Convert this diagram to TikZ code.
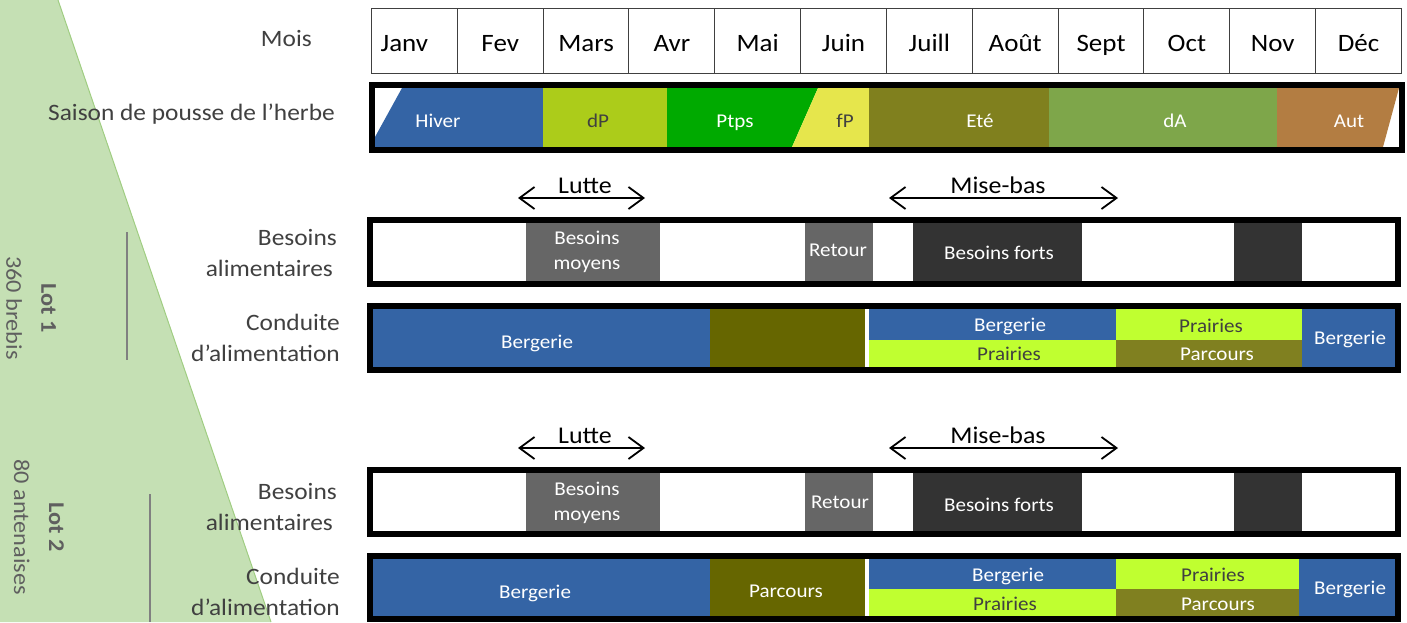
\documentclass[tikz,border=0pt]{standalone}
\usepackage{fontspec}
\setmainfont{Carlito}[FakeStretch=1.08]
\usetikzlibrary{arrows.meta}
\definecolor{bergerie}{RGB}{52,100,165}
\definecolor{dPc}{RGB}{172,204,26}
\definecolor{ptpsc}{RGB}{0,170,0}
\definecolor{fPc}{RGB}{230,230,76}
\definecolor{etec}{RGB}{128,128,30}
\definecolor{dAc}{RGB}{126,166,74}
\definecolor{autc}{RGB}{179,125,66}
\definecolor{darkolive}{RGB}{102,102,0}
\definecolor{limec}{RGB}{192,255,48}
\definecolor{parcc}{RGB}{128,128,32}
\definecolor{midgray}{RGB}{102,102,102}
\definecolor{darkgray}{RGB}{51,51,51}
\definecolor{leftgreen}{RGB}{197,224,180}
\definecolor{greenedge}{RGB}{160,205,130}
\definecolor{labelgray}{RGB}{64,64,64}
\definecolor{lotgray}{RGB}{95,95,95}
\begin{document}
\begin{tikzpicture}[x=1pt,y=-1pt,
  frame/.style={draw=black,line width=6pt},
  month/.style={draw=black!75,line width=1pt,minimum width=85.83pt,minimum height=65pt,anchor=north west,inner sep=0pt,text height=21pt,text depth=0pt,font=\fontsize{25}{28}\selectfont},
  rowlab/.style={text=labelgray,align=right,inner sep=0pt,font=\fontsize{23.5}{31}\selectfont},
  seas/.style={text=white,inner sep=0pt,text height=14pt,text depth=4pt,font=\fontsize{19.5}{24}\selectfont},
  boxt/.style={text=white,inner sep=0pt,align=center,font=\fontsize{19.5}{25}\selectfont},
  boxs/.style={text=white,inner sep=0pt,text height=14pt,text depth=4pt,font=\fontsize{19.5}{25}\selectfont},
  darkt/.style={text=labelgray},
  evt/.style={inner sep=0pt,anchor=base,font=\fontsize{24}{28}\selectfont},
  arr/.style={line width=1.8pt,{Straight Barb[length=15pt,width=22pt]}-{Straight Barb[length=15pt,width=22pt]}},
  lot/.style={text=lotgray,rotate=-90,align=center,inner sep=0pt,font=\fontsize{22.5}{35}\selectfont},
  lotline/.style={draw=black!50,line width=1.2pt}
]
\useasboundingbox (0,0) rectangle (1407,622);
% left green band
\fill[leftgreen] (0,0) -- (58,0) -- (271,622) -- (0,622) -- cycle;
\draw[greenedge,line width=1pt] (58,0) -- (271,622);

% months
\foreach \m [count=\i] in {\hspace*{-20pt}Janv,Fev,Mars,Avr,Mai,Juin,Juill,Août,Sept,Oct,Nov,Déc}
  \node[month] (m\i) at ({371+85.83*(\i-1)},8) {\m};
\node[rowlab,anchor=base east] (lmois) at (312,46) {Mois};

% season bar
\node[rowlab,anchor=base east] (lsaison) at (335,120) {Saison de pousse de l’herbe};
\fill[white] (375,88) rectangle (1399,147);
\fill[bergerie] (402,88) -- (543,88) -- (543,147) -- (375,147) -- (375,137) -- cycle;
\fill[dPc] (543,88) rectangle (667,147);
\fill[ptpsc] (667,88) -- (818,88) -- (792,147) -- (667,147) -- cycle;
\fill[fPc] (818,88) -- (869,88) -- (869,147) -- (792,147) -- cycle;
\fill[etec] (869,88) rectangle (1049,147);
\fill[dAc] (1049,88) rectangle (1277,147);
\fill[autc] (1277,88) -- (1399,88) -- (1383,147) -- (1277,147) -- cycle;
\draw[frame] (372,85) rectangle (1402,150);
\node[seas] (shiver) at (438,122) {Hiver};
\node[seas,darkt] (sdp) at (598,122) {dP};
\node[seas] (sptps) at (735,122) {Ptps};
\node[seas,darkt] (sfp) at (845,122) {fP};
\node[seas] (sete) at (980,122) {Eté};
\node[seas] (sda) at (1175,122) {dA};
\node[seas] (saut) at (1349,122) {Aut};

% ---------- Lot 1 ----------
\node[lot] (lot1) at (31,308) {\textbf{Lot 1}\\360 brebis};
\draw[lotline] (127,232) -- (127,360);

\node[evt] (lutte1) at (585,193) {Lutte};
\coordinate (lutte1a) at (518,198);
\coordinate (lutte1b) at (645,198);
\draw[arr] (lutte1a) -- (lutte1b);
\node[evt] (mb1) at (998,193) {Mise-bas};
\coordinate (mb1a) at (889,198);
\coordinate (mb1b) at (1118,198);
\draw[arr] (mb1a) -- (mb1b);

\node[rowlab,anchor=east] (lbes1) at (337,253) {Besoins\\alimentaires\,};
\fill[white] (373,223) rectangle (1395,281);
\fill[midgray] (526,223) rectangle (660,281);
\fill[midgray] (805,223) rectangle (873,281);
\fill[darkgray] (913,223) rectangle (1082,281);
\fill[darkgray] (1234,223) rectangle (1302,281);
\draw[frame] (370,220) rectangle (1398,284);
\node[boxt] (moy1) at (587,252) {Besoins\\moyens};
\node[boxs] (ret1) at (838,251) {Retour};
\node[boxs] (forts1) at (999,254) {Besoins forts};

\node[rowlab,anchor=east] (lcond1) at (340,338) {Conduite\\d’alimentation};
\fill[bergerie] (373,309) rectangle (710,367);
\fill[darkolive] (710,309) rectangle (865,367);
\fill[white] (865,309) rectangle (869,367);
\fill[bergerie] (869,309) rectangle (1116,340);
\fill[limec] (869,340) rectangle (1116,367);
\fill[limec] (1116,309) rectangle (1302,340);
\fill[parcc] (1116,340) rectangle (1302,367);
\fill[bergerie] (1302,309) rectangle (1395,367);
\draw[frame] (370,306) rectangle (1398,370);
\node[boxs] (berg1) at (537,343) {Bergerie};
\node[boxs] (bergt1) at (1010,326) {Bergerie};
\node[boxs,darkt] (prb1) at (1009,355) {Prairies};
\node[boxs,darkt] (prt1) at (1211,327) {Prairies};
\node[boxs] (parb1) at (1217,355) {Parcours};
\node[boxs] (bergr1) at (1350,339) {Bergerie};

% ---------- Lot 2 ----------
\node[lot] (lot2) at (39,527) {\textbf{Lot 2}\\80 antenaises};
\draw[lotline] (150,494) -- (150,622);

\node[evt] (lutte2) at (585,443) {Lutte};
\coordinate (lutte2a) at (518,448);
\coordinate (lutte2b) at (645,448);
\draw[arr] (lutte2a) -- (lutte2b);
\node[evt] (mb2) at (998,443) {Mise-bas};
\coordinate (mb2a) at (889,448);
\coordinate (mb2b) at (1118,448);
\draw[arr] (mb2a) -- (mb2b);

\node[rowlab,anchor=east] (lbes2) at (337,507) {Besoins\\alimentaires\,};
\fill[white] (373,473) rectangle (1395,531);
\fill[midgray] (526,473) rectangle (660,531);
\fill[midgray] (805,473) rectangle (873,531);
\fill[darkgray] (913,473) rectangle (1082,531);
\fill[darkgray] (1234,473) rectangle (1302,531);
\draw[frame] (370,470) rectangle (1398,534);
\node[boxt] (moy2) at (587,503) {Besoins\\moyens};
\node[boxs] (ret2) at (840,503) {Retour};
\node[boxs] (forts2) at (999,506) {Besoins forts};

\node[rowlab,anchor=east] (lcond2) at (340,592) {Conduite\\d’alimentation};
\fill[bergerie] (373,559) rectangle (710,616);
\fill[darkolive] (710,559) rectangle (865,616);
\fill[white] (865,559) rectangle (869,616);
\fill[bergerie] (869,559) rectangle (1116,589);
\fill[limec] (869,589) rectangle (1116,616);
\fill[limec] (1116,559) rectangle (1299,589);
\fill[parcc] (1116,589) rectangle (1299,616);
\fill[bergerie] (1299,559) rectangle (1395,616);
\draw[frame] (370,556) rectangle (1398,619);
\node[boxs] (berg2) at (535,593) {Bergerie};
\node[boxs] (parc2) at (786,592) {Parcours};
\node[boxs] (bergt2) at (1008,576) {Bergerie};
\node[boxs,darkt] (prb2) at (1005,605) {Prairies};
\node[boxs,darkt] (prt2) at (1213,576) {Prairies};
\node[boxs] (parb2) at (1218,605) {Parcours};
\node[boxs] (bergr2) at (1350,589) {Bergerie};
\end{tikzpicture}
\end{document}
